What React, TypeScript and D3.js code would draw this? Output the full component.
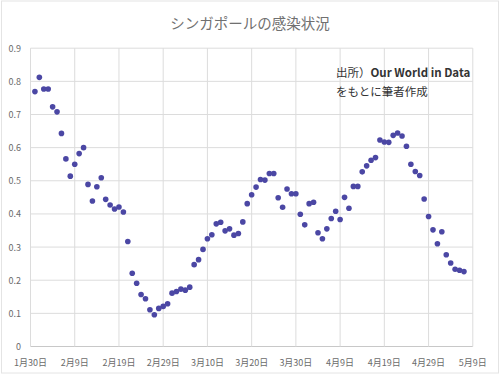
import React from "react";
import * as d3 from "d3";

const title = "シンガポールの感染状況";
const noteLines = ["出所）Our World in Data", "をもとに筆者作成"];
const startDate = new Date(2020, 0, 31);
const values: number[] = [
  0.769, 0.812, 0.777, 0.777, 0.723, 0.708, 0.643, 0.566, 0.514, 0.55,
  0.582, 0.6, 0.489, 0.439, 0.482, 0.509, 0.444, 0.427, 0.415, 0.421,
  0.406, 0.317, 0.221, 0.191, 0.157, 0.144, 0.111, 0.096, 0.115, 0.121,
  0.129, 0.161, 0.166, 0.173, 0.17, 0.179, 0.247, 0.262, 0.293, 0.325,
  0.337, 0.37, 0.375, 0.349, 0.355, 0.336, 0.341, 0.376, 0.431, 0.458,
  0.481, 0.504, 0.502, 0.522, 0.522, 0.449, 0.42, 0.475, 0.461, 0.461,
  0.399, 0.367, 0.431, 0.435, 0.343, 0.325, 0.355, 0.386, 0.408, 0.383,
  0.45, 0.417, 0.483, 0.483, 0.527, 0.545, 0.562, 0.57, 0.623, 0.617,
  0.616, 0.637, 0.644, 0.635, 0.604, 0.55, 0.528, 0.516, 0.445, 0.392,
  0.352, 0.31, 0.346, 0.277, 0.252, 0.233, 0.23, 0.226,
];
const xTickDates = [
  new Date(2020, 0, 30), new Date(2020, 1, 9), new Date(2020, 1, 19),
  new Date(2020, 1, 29), new Date(2020, 2, 10), new Date(2020, 2, 20),
  new Date(2020, 2, 30), new Date(2020, 3, 9), new Date(2020, 3, 19),
  new Date(2020, 3, 29), new Date(2020, 4, 9),
];
const yTicks = [0, 0.1, 0.2, 0.3, 0.4, 0.5, 0.6, 0.7, 0.8, 0.9];

const W = 500;
const H = 376;
const FONT = "'Noto Sans CJK JP', 'Noto Sans', sans-serif";

export default function App() {
  const x = d3
    .scaleTime()
    .domain([xTickDates[0], xTickDates[xTickDates.length - 1]])
    .range([30.5, 472.8]);
  const y = d3.scaleLinear().domain([0, 0.9]).range([346.5, 48.2]);
  const data = values.map((v, i) => ({ date: d3.timeDay.offset(startDate, i), v }));
  const fmt = (d: Date) => `${d.getMonth() + 1}月${d.getDate()}日`;
  const yFmt = (v: number) => (v === 0 ? "0" : d3.format(".1f")(v));

  const renderNote = (l: string) => {
    const idx = l.indexOf("）");
    if (idx < 0) return l;
    return (
      <>
        <tspan>{l.slice(0, idx + 1)}</tspan>
        <tspan fontWeight={600}>{l.slice(idx + 1)}</tspan>
      </>
    );
  };

  return (
    <svg
      width={W}
      height={H}
      style={{ position: "absolute", left: 0, top: 0, background: "#fff" }}
    >
      <rect x={1.5} y={1} width={497} height={372} fill="#fff" stroke="#e4e4e4" strokeWidth={1} />
      <text
        x={250}
        y={22}
        textAnchor="middle"
        dominantBaseline="central"
        fontFamily={FONT}
        fontSize={14.5}
        fill="#707070"
      >
        {title}
      </text>
      {yTicks.map((t) => (
        <line
          key={"h" + t}
          x1={x.range()[0]}
          x2={x.range()[1]}
          y1={y(t)}
          y2={y(t)}
          stroke={t === 0 ? "#c8c8c8" : "#dcdcdc"}
          strokeWidth={1}
        />
      ))}
      {xTickDates.map((d, i) => (
        <line
          key={"v" + i}
          x1={x(d)}
          x2={x(d)}
          y1={y(0.9)}
          y2={y(0)}
          stroke="#dcdcdc"
          strokeWidth={1}
        />
      ))}
      {yTicks.map((t) => (
        <text
          key={"yl" + t}
          x={21}
          y={y(t)}
          textAnchor="end"
          dominantBaseline="central"
          fontFamily={FONT}
          fontSize={9}
          fill="#6b6b6b"
        >
          {yFmt(t)}
        </text>
      ))}
      {xTickDates.map((d, i) => (
        <text
          key={"xl" + i}
          x={x(d)}
          y={362}
          textAnchor="middle"
          dominantBaseline="central"
          fontFamily={FONT}
          fontSize={9}
          fill="#6b6b6b"
        >
          {fmt(d)}
        </text>
      ))}
      {data.map((p, i) => (
        <circle key={i} cx={x(p.date)} cy={y(p.v)} r={2.8} fill="#4b47a4" />
      ))}
      {noteLines.map((l, i) => (
        <text
          key={"n" + i}
          x={336}
          y={72 + i * 18.5}
          dominantBaseline="central"
          fontFamily={FONT}
          fontSize={11.5}
          fill="#333"
        >
          {renderNote(l)}
        </text>
      ))}
    </svg>
  );
}
